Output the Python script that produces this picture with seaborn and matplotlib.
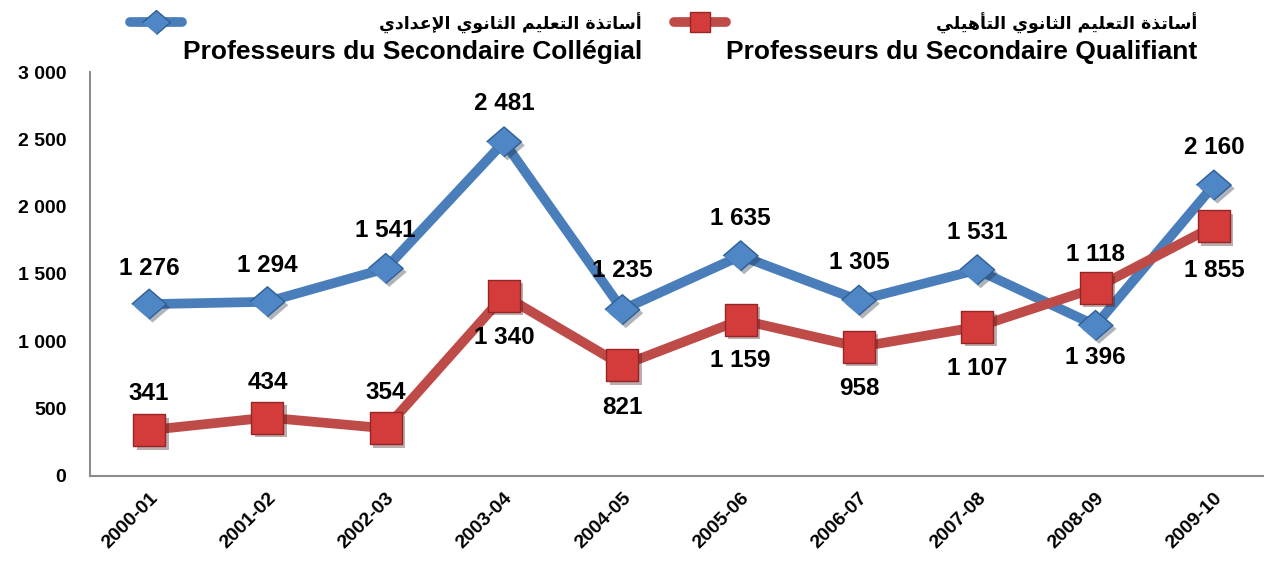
import numpy as np
import pandas as pd
import matplotlib
matplotlib.use("Agg")
import matplotlib.pyplot as plt
import matplotlib.patheffects as pe
from matplotlib.lines import Line2D
from matplotlib.ticker import FixedLocator, FuncFormatter
import seaborn as sns

# ---- data -------------------------------------------------------------
years = ["2000-01", "2001-02", "2002-03", "2003-04", "2004-05",
         "2005-06", "2006-07", "2007-08", "2008-09", "2009-10"]
college = [1276, 1294, 1541, 2481, 1235, 1635, 1305, 1531, 1118, 2160]
qualifiant = [341, 434, 354, 1340, 821, 1159, 958, 1107, 1396, 1855]

college_ar = "أساتذة التعليم الثانوي الإعدادي"
college_fr = "Professeurs du Secondaire Collégial"
qualifiant_ar = "أساتذة التعليم الثانوي التأهيلي"
qualifiant_fr = "Professeurs du Secondaire Qualifiant"

# vertical placement of the value labels (points, + is above the marker)
college_label_dy = [26, 26, 27, 28, 28, 27, 27, 27, 51, 27]
qualifiant_label_dy = [26, 25, 26, -30, -30, -29, -30, -30, -50, -32]

BLUE, BLUE_FACE, BLUE_EDGE = "#4A7EBB", "#4F86C6", "#2F5F96"
RED, RED_FACE, RED_EDGE = "#BE4B48", "#D43C3C", "#962626"

# ---- minimal Arabic shaping (contextual forms, visual order) ---------
FORMS = {
    "ا": (0xFE8D, 0xFE8E, None, None), "أ": (0xFE83, 0xFE84, None, None),
    "إ": (0xFE87, 0xFE88, None, None), "ة": (0xFE93, 0xFE94, None, None),
    "د": (0xFEA9, 0xFEAA, None, None), "ذ": (0xFEAB, 0xFEAC, None, None),
    "و": (0xFEED, 0xFEEE, None, None),
    "ت": (0xFE95, 0xFE96, 0xFE97, 0xFE98), "ث": (0xFE99, 0xFE9A, 0xFE9B, 0xFE9C),
    "س": (0xFEB1, 0xFEB2, 0xFEB3, 0xFEB4), "ع": (0xFEC9, 0xFECA, 0xFECB, 0xFECC),
    "ل": (0xFEDD, 0xFEDE, 0xFEDF, 0xFEE0), "م": (0xFEE1, 0xFEE2, 0xFEE3, 0xFEE4),
    "ن": (0xFEE5, 0xFEE6, 0xFEE7, 0xFEE8), "ه": (0xFEE9, 0xFEEA, 0xFEEB, 0xFEEC),
    "ي": (0xFEF1, 0xFEF2, 0xFEF3, 0xFEF4),
}
LAM_ALEF = {"ا": (0xFEFB, 0xFEFC), "أ": (0xFEF7, 0xFEF8), "إ": (0xFEF9, 0xFEFA)}


def shape_arabic(text):
    tokens, i = [], 0
    while i < len(text):
        c = text[i]
        if c == "ل" and i + 1 < len(text) and text[i + 1] in LAM_ALEF:
            tokens.append(("LA", text[i + 1]))
            i += 2
        else:
            tokens.append(("C", c))
            i += 1

    def joins_next(tok):
        kind, c = tok
        return kind == "C" and c in FORMS and FORMS[c][2] is not None

    def joins_prev(tok):
        kind, c = tok
        return kind == "LA" or c in FORMS

    out = []
    for k, tok in enumerate(tokens):
        kind, c = tok
        p = k > 0 and joins_next(tokens[k - 1]) and joins_prev(tok)
        n = k + 1 < len(tokens) and joins_next(tok) and joins_prev(tokens[k + 1])
        if kind == "LA":
            out.append(chr(LAM_ALEF[c][1] if p else LAM_ALEF[c][0]))
        elif c not in FORMS:
            out.append(c)
        else:
            iso, fin, ini, med = FORMS[c]
            out.append(chr(med if (p and n) else fin if p else ini if n else iso))
    return "".join(reversed(out))


# ---- style ------------------------------------------------------------
sns.set_style("white")
plt.rcParams["font.family"] = ["Liberation Sans", "DejaVu Sans"]
plt.rcParams["font.weight"] = "bold"
for key in ("text.color", "axes.labelcolor", "xtick.labelcolor", "ytick.labelcolor"):
    plt.rcParams[key] = "black"

W, H = 1264, 562
fig = plt.figure(figsize=(W / 100, H / 100), dpi=100)
ax = fig.add_axes([90 / W, 86 / H, (W - 90) / W, 404 / H])

df = pd.DataFrame({"pos": np.arange(len(years)), "college": college,
                   "qualifiant": qualifiant})

diamond = [(-1, 0), (0, 0.86), (1, 0), (0, -0.86)]
shadow = [pe.SimplePatchShadow(offset=(2.5, -2.5), alpha=0.35), pe.Normal()]

sns.lineplot(data=df, x="pos", y="college", ax=ax, color=BLUE, linewidth=7,
             solid_capstyle="round", solid_joinstyle="round", zorder=2)
sns.scatterplot(data=df, x="pos", y="college", ax=ax, marker=diamond, s=25 ** 2,
                color=BLUE_FACE, edgecolor=BLUE_EDGE, linewidth=1, zorder=3,
                path_effects=shadow)
sns.lineplot(data=df, x="pos", y="qualifiant", ax=ax, color=RED, linewidth=7,
             solid_capstyle="round", solid_joinstyle="round", zorder=4)
sns.scatterplot(data=df, x="pos", y="qualifiant", ax=ax, marker="s", s=23 ** 2,
                color=RED_FACE, edgecolor=RED_EDGE, linewidth=1, zorder=5,
                path_effects=shadow)


def fmt(v):
    return f"{v:,}".replace(",", " ")


# value labels
for x, v, dy in zip(df["pos"], college, college_label_dy):
    ax.annotate(fmt(v), (x, v), xytext=(0, dy), textcoords="offset points",
                ha="center", va="center", fontsize=17.5, fontweight="bold", zorder=6)
for x, v, dy in zip(df["pos"], qualifiant, qualifiant_label_dy):
    ax.annotate(fmt(v), (x, v), xytext=(0, dy), textcoords="offset points",
                ha="center", va="center", fontsize=17.5, fontweight="bold", zorder=6)

# axes
ax.set_xlim(-0.5, -0.5 + (W - 90) / 118.3)
ax.set_ylim(0, 3000)
ax.set_xlabel("")
ax.set_ylabel("")
ax.yaxis.set_major_locator(FixedLocator(np.arange(0, 3001, 500)))
ax.yaxis.set_major_formatter(FuncFormatter(lambda v, _: fmt(int(v))))
ax.set_xticks(np.arange(len(years)))
ax.set_xticklabels(years)
ax.set_xticks(np.arange(-0.5, len(years) - 0.5, 1), minor=True)
ax.tick_params(axis="x", which="major", length=0, pad=10, labelsize=14)
ax.tick_params(axis="x", which="minor", length=5, width=1.5, color="#8C8C8C",
               direction="out")
ax.tick_params(axis="y", length=5, width=1.5, color="#8C8C8C", direction="out",
               pad=12, labelsize=14)
for lab in ax.get_xticklabels():
    lab.set_rotation(45)
    lab.set_ha("right")
    lab.set_rotation_mode("anchor")
    lab.set_fontweight("bold")
for lab in ax.get_yticklabels():
    lab.set_fontweight("bold")

for side in ("top", "right"):
    ax.spines[side].set_visible(False)
for side in ("left", "bottom"):
    ax.spines[side].set_color("#8C8C8C")
    ax.spines[side].set_linewidth(1.5)


# legend (Arabic title over French title, sample line on the left)
def fx(px):
    return px / W


def fy(py):
    return 1 - py / H


def legend_entry(x0, x1, xr, color, face, edge, marker, msize, ar, fr):
    fig.add_artist(Line2D([fx(x0), fx(x1)], [fy(22), fy(22)], color=color,
                          linewidth=7, solid_capstyle="round",
                          transform=fig.transFigure))
    fig.add_artist(Line2D([fx((x0 + x1) / 2)], [fy(22)], marker=marker,
                          markersize=msize, markerfacecolor=face,
                          markeredgecolor=edge, linestyle="none",
                          transform=fig.transFigure))
    fig.text(fx(xr), fy(23), shape_arabic(ar), ha="right", va="center",
             fontsize=12.5, fontweight="bold", family=["DejaVu Sans"])
    fig.text(fx(xr), fy(52), fr, ha="right", va="center", fontsize=19,
             fontweight="bold")


legend_entry(130, 182, 642, BLUE, BLUE_FACE, BLUE_EDGE, diamond, 20,
             college_ar, college_fr)
legend_entry(674, 726, 1197, RED, RED_FACE, RED_EDGE, "s", 15,
             qualifiant_ar, qualifiant_fr)

fig.savefig("out.png", dpi=100)
